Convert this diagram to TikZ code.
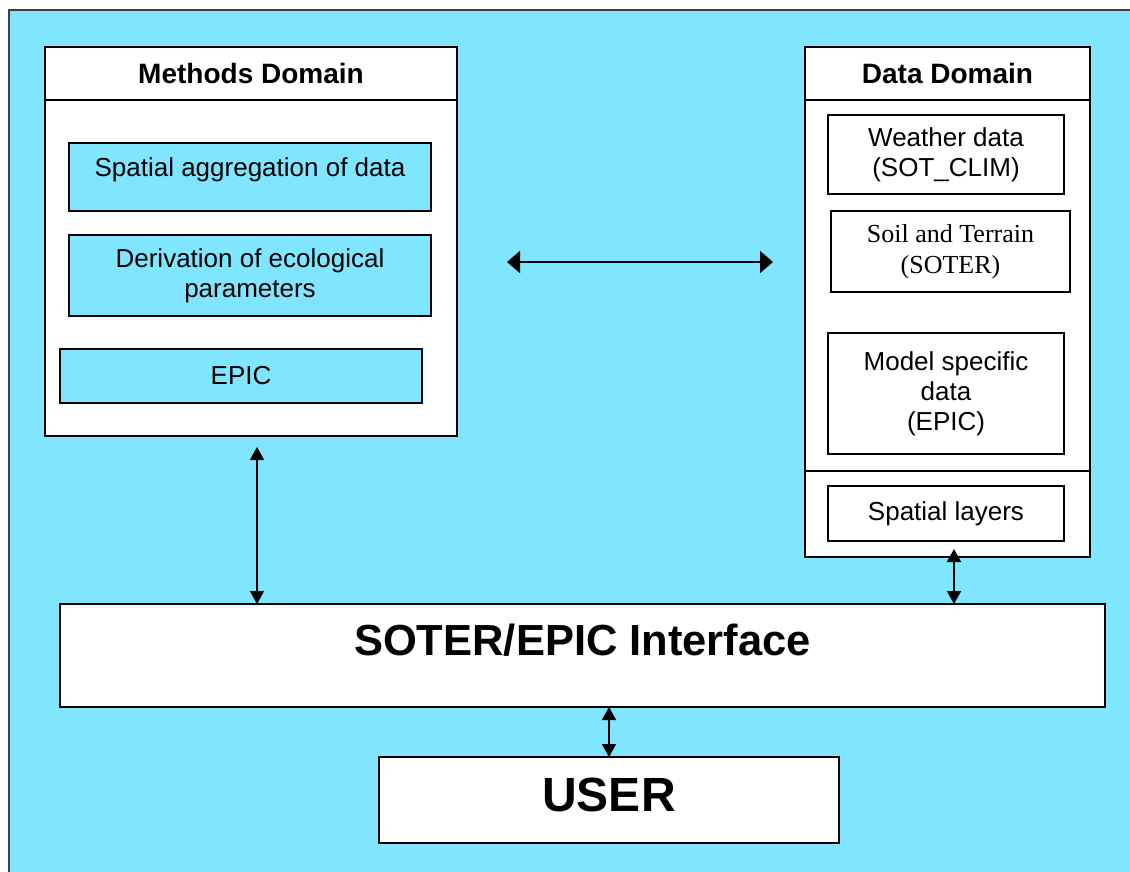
\documentclass[tikz,border=0pt]{standalone}
\usepackage{fontspec}
\setmainfont{Liberation Sans}
\newfontfamily\timesface{Liberation Serif}
\usetikzlibrary{positioning, arrows.meta}
\definecolor{skyblue}{RGB}{128,229,255}
\definecolor{framegray}{RGB}{64,64,64}
\tikzset{
  plainbox/.style={draw, line width=1.5pt, outer sep=0pt, inner sep=0pt, anchor=north west,
    align=center, font=\fontsize{26}{30}\selectfont},
  domainbox/.style={plainbox, fill=white},
  methodbox/.style={plainbox, fill=skyblue},
  databox/.style={plainbox, fill=white},
  headbox/.style={domainbox, minimum height=53pt, font=\bfseries\fontsize{28}{32}\selectfont},
  biarrow/.style={{Triangle[length=13pt,width=14pt]}-{Triangle[length=13pt,width=14pt]}, line width=1.6pt},
  widebiarrow/.style={{Triangle[length=13pt,width=22pt]}-{Triangle[length=13pt,width=22pt]}, line width=1.6pt},
}
\begin{document}
\begin{tikzpicture}[x=1pt, y=-1pt]
\useasboundingbox (0,0) rectangle (1130,872);
\draw[fill=skyblue, draw=framegray, line width=2.5pt] (9,10) rectangle (1140,880);

% methods domain
\node[headbox, minimum width=412pt] (methodshead) at (45,47) {Methods Domain};
\node[domainbox, minimum width=412pt, minimum height=336pt, below=0pt of methodshead] (methodsbody) {};
\node[methodbox, minimum width=362pt, minimum height=68pt, text depth=20pt] (aggr) at (69,143) {Spatial aggregation of data};
\node[methodbox, minimum width=362pt, minimum height=81pt] (deriv) at (69,235) {Derivation of ecological\\parameters};
\node[methodbox, minimum width=362pt, minimum height=54pt] (epic) at (60,349) {EPIC};

% data domain
\node[headbox, minimum width=285pt] (datahead) at (805,47) {Data Domain};
\node[domainbox, minimum width=285pt, minimum height=371pt, below=0pt of datahead] (databody) {};
\node[domainbox, minimum width=285pt, minimum height=86pt, below=0pt of databody] (datalower) {};
\node[databox, minimum width=236pt, minimum height=79pt] (weather) at (828,115) {Weather data\\(SOT\_CLIM)};
\node[databox, minimum width=239pt, minimum height=81pt, font=\timesface\fontsize{26}{31}\selectfont] (soil) at (831,211) {Soil and Terrain\\(SOTER)};
\node[databox, minimum width=236pt, minimum height=121pt] (model) at (828,333) {Model specific\\data\\(EPIC)};
\node[databox, minimum width=236pt, minimum height=55pt] (layers) at (828,486) {Spatial layers};

% interface and user
\node[domainbox, minimum width=1045pt, minimum height=103pt, text height=32pt, text depth=33pt,
  font=\bfseries\fontsize{43.5}{50}\selectfont] (iface) at (60,604) {SOTER/EPIC Interface};
\node[domainbox, minimum width=460pt, minimum height=86pt, text height=35pt, text depth=12pt,
  font=\bfseries\fontsize{48}{56}\selectfont] (user) at (379,757) {USER};

% links
\coordinate (linkL) at (507,262);
\coordinate (linkR) at (773,262);
\draw[widebiarrow] (linkL) -- (linkR);
\coordinate (methodsdrop) at (257,447);
\draw[biarrow] (methodsdrop) -- (methodsdrop |- iface.north);
\coordinate (datadrop) at (954,549);
\draw[biarrow] (datadrop) -- (datadrop |- iface.north);
\draw[biarrow] (user.north) -- (user.north |- iface.south);
\end{tikzpicture}
\end{document}
